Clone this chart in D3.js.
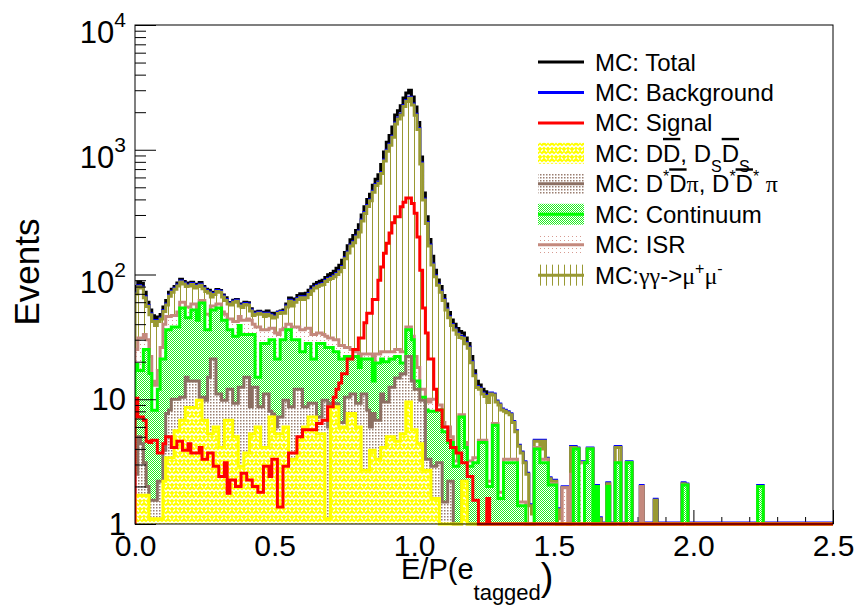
<!DOCTYPE html>
<html>
<head>
<meta charset="utf-8">
<script src="https://cdn.jsdelivr.net/npm/d3@7"></script>
<style>
body { margin: 0; background: #fff; }
svg { display: block; font-family: "Liberation Sans", Arial, Helvetica, sans-serif; }
</style>
</head>
<body>
<div id="chart"></div>
<script>
// E/P histogram, 250 bins of 0.01 from 0 to 2.5
var nBins = 250;
var binWidth = 0.01;

// MC: DDbar, DsDsbar (yellow)
var dd = [1.7,1.7,1.7,1.7,1.7,1.1,1.1,1.1,1.1,1.1,
  2.2,3.4,3.4,3.4,5.6,5.6,6.8,6.8,8.6,8.6,
  8.6,8.6,9.8,9.8,6.8,6.8,5.3,5.3,6,6,
  4.1,4.1,6.8,6.8,6.8,5,5,2.9,2.9,3.7,
  3.7,5.3,5.3,6,6,4.1,4.1,4.1,7.2,7.2,
  5.3,5.3,5.3,6,6,3.3,3.3,3.3,4.7,4.7,
  6,6,7.2,7.2,7.2,5.3,5.3,5.3,1.1,1.1,
  8.7,8.7,8.7,6,6,6,7.7,7.7,7.7,6,
  6,2.7,2.7,2.7,3.9,3.9,3.3,3.3,4.1,4.1,
  5,5,5,4.6,4.6,5.3,5.3,9.5,9.5,5.7,
  5.7,4.4,4.4,2.7,2.7,2.7,1.6,1.6,1.6,0.9,
  0.9,0.9,0.9,0.9,0.9,0.9,0.9,2.2,2.2];

// MC: D*Dbar pi (brown)
var ddpi = [0.8,3.3,2.7,1.4,0.3,0.45,0.45,0.45,1.1,1.1,
  1.7,4.3,4.8,6.6,4.4,4.4,3.6,3.6,6.4,5.4,
  5.4,5.4,4.2,0.6,3.6,3.0,9.7,15.7,15,5,
  6.9,5.7,3,5.2,5.2,4.3,4.3,9.6,9.6,11.3,
  11.3,3.4,7.2,6.5,2.7,4.6,6.9,6.9,0.8,0.4,
  0.7,1.9,1.9,3.8,3.8,5.4,5.4,8.7,7.3,7.3,
  2.7,2.7,2.1,2.1,2.1,1.9,1.9,4.5,8.7,4.9,
  0.6,0.6,0.5,0.5,0.5,4.4,2.7,3.3,3.3,3.3,
  3.3,8.3,8.3,5.5,2.1,3.8,3.5,3.5,6.9,5.4,
  4.5,7.5,7.5,10.2,10.2,10.7,10.7,12.5,12.5,8.3,
  6.3,7.6,5.4,7.1,0.6,0.6,1.3,1.3,1.5,2.2,
  0.6,0.6,1.3,1.3];

// MC: Continuum (green)
var cont = [16.5,12,12.6,21.9,23,14.5,6.6,6.6,9.8,18.8,
  17.1,28.3,27.8,28,28,28,43.6,43.6,30,31,
  38,38,29,48.6,48.6,26.2,21,31,31,43,
  43,33.2,33.2,24,24,22.7,22.7,26.5,20.5,18,
  18,24.3,20.5,2.5,6.3,19.3,17,17,22,22.4,
  15,13.8,22.8,20.2,26.2,27.3,21.3,18,18,12,
  15.3,19.3,18.7,11.7,11.7,20.8,20.8,18.2,16.2,20,
  16.7,14.7,14.8,14.5,14.5,11.6,11.6,11,11,12.7,
  8.7,10,10,12.8,15,6.3,12.7,12.7,10,10.5,
  10.5,8.5,8.5,7.2,7.2,3.5,3.5,14,14,16,
  2,2,0.6,0.6,4.9,4.7,5.1,5.1,5.1,5.1,
  4,4,2.3,2.3,2,2,6.3,5,1.9,2.9,
  2.9,3.1,3.1,4.5,4.5,4.5,2,2,6.2,6.2,
  1.6,1.6,3.1,3.1,3.1,3.1,3.1,1.4,1.4,1.4,
  0,0,0,4,4,3.1,3.1,3.1,2.05,2.05,
  2.05,0,0,0,0,0,0,4,4,0,
  0,3.1,4,4,0,2,0,0,0,2,
  0,0,3.1,3.1,0,0,3.1,3.1,0,0,
  0,0,0,0,0,0,0,0,0,0,
  0,0,0,0,0,0,2.05,2.05,0,0,
  0,0,0,0,0,0,0,0,0,0,
  0,0,0,0,0,0,0,0,0,0,
  0,0,0,2,2];

// MC: ISR
var isr = [6,14,14,8,5,6,5.8,4.8,5,5,
  19,10,10,9,9,12,6,6,10,10,
  6,6,9,3,3,12,12,4,4,4,
  4,7,5,8,8,10,10,7,10,10,
  11,10,7,23,23,8,8,8,7,7,
  13,12,6,7,4,4,8,8,8,12,
  12,9,9,12,12,6,6,5,6,5,
  5,6,6,6,6,4,4,3,3,2,
  4,2,2,2,2,4,3.5,3.5,3,4,
  4,3,3,3,3,4.5,4.5,2,2,2,
  8,4,1.6,1.6,1.8,1.5,2,2,0.8,0.8,
  1,0.5,1.5,0.5,0.3,0.3,0.3,0.3,0.4,0.3,
  0.3,0.3,0.3,0.2,0.2,0.2,0.2,0.2,0.2,0.2,
  0.2,0.2,0.2,0.2,0.2,0.2,0.2,0.1,0.1,0.1,
  0,0,0,0.1,0.1,0.2,0.2,0.2,0.05,0.05,
  0.05,0,0,1.95,1.95,0,2.5,0,0,3.1,
  3.1,0,0,0,0,0,0,0,0,0,
  0,0,0,0,0,0,0,0,0,0,
  0,2];

// MC: gamma gamma -> mu+ mu-
var gg = [44.8,48.8,46.8,32.2,25.4,25.5,28,26,25,18,
  10.6,11,21,25,29,31,27,24,25,26,
  25,20,28,20,15,25,23,10,13,15,
  14,16,14,14,13,18,19,10,11.5,14.5,
  13,8,7,10,11,12,10,12,9.6,7.7,
  11.7,15.6,13.6,12,15,21,18,22,25,29,
  27,28,32,41,45,46,48,50,56,60,
  62,66,70,78,87,108,123,144,155,176,
  197,246,286,328,368,439,494,517,621,788,
  948,1061,1236,1585,1735,1876,2196,2402,2552,2248,
  1868,1432,755,384,246,160,109,86,73,63,
  55.5,46,39,34,32.7,30,23.8,23.4,23.4,22.4,
  16.4,12,9,7.3,6.3,5.8,7.2,8.8,4.4,3.1,
  7.2,6.4,4.7,4.5,4.2,3.2,2.2,2.7,2.2,1.6,
  2.5,1.4,1.2,0.5,0.5,0.7,1.3,0,0.2,0.1,
  0.1,1.3,1.1,0,0,0,1.6,0.1,0,0,
  0,0,0,0,0,0,1.1,0,0,0.1,
  0,0,1,1,0,0,0,0,0,0,
  0,0,0,0,0,0,1.55,0,0,0,
  0,0,0,0,0,0,0.05];

// MC: Signal (red)
var signal = [10.2,7.2,7.2,6.8,4.6,4.5,4.7,4.7,3.7,3.7,
  4.4,5,5,4.1,4.1,4.6,4.6,3.9,3.9,4.4,
  3.7,3.7,3.7,4.1,3.3,3.3,3.7,3.7,2.9,2.9,
  2.4,2.4,3.1,1.76,2.25,2.25,2,2,2.55,2.55,
  2.25,2.25,2,2,1.8,1.8,2.9,2.9,2.4,3.3,
  3.3,1.37,1.37,2.9,2.9,3.7,3.7,3.7,5,5,
  5.7,5.7,5.7,5.7,5.7,6.4,6.4,6.8,6.8,8.7,
  8.7,10.4,12,13.5,16,16,21,21,25,25,
  31,31,41,49,49,63,63,90,115,148,
  178,215,260,290,290,350,380,410,410,370,
  310,200,108,54,34,21,21,12,8.2,8.2,
  6,6,4.7,4.1,4.1,3.7,3.7,3.1,3.1,2.4,
  2.4,1.55,1.55,1,1,1,1.6];

var stackKeys = ["dd", "ddpi", "cont", "isr", "gg"];
var xTicksMajor = [0, 0.5, 1.0, 1.5, 2.0, 2.5];
var yTicksMajor = [1, 10, 100, 1000, 10000];

var colors = {
  dd: "#ffff00", ddpi: "#8c6f62", cont: "#00ff00", isr: "#c4897d", gg: "#999933",
  total: "#000000", bkg: "#0000ff", signal: "#ff0000"
};

var svg = d3.select("#chart").append("svg")
  .attr("width", 861)
  .attr("height", 606);

var x = d3.scaleLinear().domain([0, 2.5]).range([135, 833]);
var y = d3.scaleLog().domain([1, 1e4]).range([524, 25]).clamp(true);

// fill patterns
var defs = svg.append("defs");
function pattern(id, w, h) {
  var p = defs.append("pattern").attr("id", id)
    .attr("patternUnits", "userSpaceOnUse")
    .attr("width", w).attr("height", h);
  return p;
}
var pY = pattern("p-dd", 8, 8);
pY.append("rect").attr("width", 8).attr("height", 8).attr("fill", "#ffff00");
pY.append("path").attr("d", "M0,1.5 L2,3.5 L4,1.5 L6,3.5 L8,1.5 M1,5.5 L3,7.5 M5,7.5 L7,5.5")
  .attr("stroke", "#fff").attr("stroke-width", 1.5).attr("fill", "none");

var pB = pattern("p-ddpi", 3, 3);
pB.append("rect").attr("width", 3).attr("height", 3).attr("fill", "#fff");
pB.append("rect").attr("width", 1.5).attr("height", 1.5).attr("fill", "#9a7e70");

var pG = pattern("p-cont", 2, 2);
pG.append("rect").attr("width", 2).attr("height", 2).attr("fill", "#fff");
pG.append("rect").attr("width", 1).attr("height", 1).attr("fill", "#22ee22");
pG.append("rect").attr("x", 1).attr("y", 1).attr("width", 1).attr("height", 1).attr("fill", "#22ee22");

var pI = pattern("p-isr", 4, 4);
pI.append("rect").attr("width", 4).attr("height", 4).attr("fill", "#fff");
pI.append("rect").attr("width", 1).attr("height", 1).attr("fill", "#d79a90");

var pH = pattern("p-gg", 6, 6);
pH.append("rect").attr("width", 6).attr("height", 6).attr("fill", "#fff");
pH.append("rect").attr("x", 0).attr("width", 1).attr("height", 6).attr("fill", colors.gg);

defs.append("clipPath").attr("id", "plot-clip")
  .append("rect").attr("x", 135).attr("y", 20).attr("width", 698).attr("height", 507);

// x ticks (they sit under the histograms)
var xAxis = svg.append("g").attr("transform", "translate(0,524)")
  .call(d3.axisBottom(x).tickValues(xTicksMajor).tickSizeInner(-14).tickSizeOuter(0)
    .tickPadding(11).tickFormat(d3.format(".1f")));
svg.append("g").attr("transform", "translate(0,524)")
  .call(d3.axisBottom(x).tickValues(d3.range(1, 25).filter(function (i) { return i % 5 != 0; }).map(function (i) { return i / 10; }))
    .tickSizeInner(-7).tickSizeOuter(0).tickFormat(""))
  .select(".domain").remove();
xAxis.select(".domain").remove();
xAxis.selectAll("text").attr("font-size", 30).attr("font-family", "Liberation Sans, Arial, sans-serif").attr("fill", "#000");

// data table and stack
var table = d3.range(nBins).map(function (i) {
  return {
    dd: dd[i] || 0, ddpi: ddpi[i] || 0, cont: cont[i] || 0,
    isr: isr[i] || 0, gg: gg[i] || 0, signal: signal[i] || 0
  };
});
var stacked = d3.stack().keys(stackKeys)(table);
var background = stacked[stacked.length - 1].map(function (d) { return d[1]; });
var total = background.map(function (v, i) { return v + table[i].signal; });

function stepPts(vals) {
  var pts = [[0, 0]];
  vals.forEach(function (v, i) { pts.push([i * binWidth, v]); });
  pts.push([nBins * binWidth, vals[nBins - 1]]);
  pts.push([nBins * binWidth, 0]);
  return pts;
}
var line = d3.line()
  .x(function (d) { return x(d[0]); })
  .y(function (d) { return y(Math.max(d[1], 1)); })
  .curve(d3.curveStepAfter);
var area = d3.area()
  .x(function (d) { return x(d[0]); })
  .y0(y(1))
  .y1(function (d) { return y(Math.max(d[1], 1)); })
  .curve(d3.curveStepAfter);

var plot = svg.append("g").attr("clip-path", "url(#plot-clip)");

plot.append("path").attr("d", line(stepPts(total)))
  .attr("fill", "none").attr("stroke", colors.total).attr("stroke-width", 3);
plot.append("path").attr("d", line(stepPts(background)))
  .attr("transform", "translate(0,-1)")
  .attr("fill", "none").attr("stroke", colors.bkg).attr("stroke-width", 3);

// stacked layers, top of the stack first
stacked.slice().reverse().forEach(function (s) {
  var top = s.map(function (d) { return d[1]; });
  plot.append("path").attr("d", area(stepPts(top)))
    .attr("fill", "url(#p-" + s.key + ")");
  plot.append("path").attr("d", line(stepPts(top)))
    .attr("fill", "none").attr("stroke", colors[s.key]).attr("stroke-width", 3);
});

plot.append("path").attr("d", line(stepPts(table.map(function (d) { return d.signal; }))))
  .attr("fill", "none").attr("stroke", colors.signal).attr("stroke-width", 3);

// y ticks
var minorY = [];
[1, 10, 100, 1000].forEach(function (dec) {
  for (var k = 2; k <= 9; k++) minorY.push(dec * k);
});
svg.append("g").attr("transform", "translate(135,0)")
  .call(d3.axisLeft(y).tickValues(yTicksMajor).tickSizeInner(-21).tickSizeOuter(0).tickFormat(""))
  .select(".domain").remove();
svg.append("g").attr("transform", "translate(135,0)")
  .call(d3.axisLeft(y).tickValues(minorY).tickSizeInner(-11).tickSizeOuter(0).tickFormat(""))
  .select(".domain").remove();

svg.append("rect").attr("x", 135).attr("y", 25).attr("width", 698).attr("height", 499)
  .attr("fill", "none").attr("stroke", "#000").attr("stroke-width", 1);

// y labels
yTicksMajor.forEach(function (v) {
  var e = Math.round(Math.log10(v));
  var t = svg.append("text").attr("x", 126).attr("text-anchor", "end")
    .attr("font-size", 31).attr("fill", "#000");
  if (e <= 1) {
    t.attr("y", y(v) + 11).text(String(v));
  } else {
    t.attr("y", y(v) + 18).text("10");
    t.append("tspan").attr("font-size", 21).attr("dy", -16).text(String(e));
  }
});

// axis titles
svg.append("text").attr("transform", "translate(39,272) rotate(-90)")
  .attr("text-anchor", "middle").attr("font-size", 35).text("Events");

var xt = svg.append("text").attr("x", 401).attr("y", 579).attr("font-size", 29);
xt.append("tspan").text("E/P(e");
xt.append("tspan").attr("font-size", 22).attr("dy", 21).text("tagged");
xt.append("tspan").attr("font-size", 38).attr("dy", -10).text(")");

// legend
var legendEntries = [
  { parts: [["MC: Total"]], line: colors.total },
  { parts: [["MC: Background"]], line: colors.bkg },
  { parts: [["MC: Signal"]], line: colors.signal },
  { parts: [["MC: D"], ["D", "bar"], [", D"], ["S", "sub"], ["D", "bar"], ["S", "sub"]], fill: "dd" },
  { parts: [["MC: D"], ["*", "sup"], ["D", "bar"], ["\u03c0", "greek"], [", D"], ["*", "sup"], ["D", "bar"], ["*", "sup"], [" "], ["\u03c0", "greek"]], fill: "ddpi" },
  { parts: [["MC: Continuum"]], fill: "cont" },
  { parts: [["MC: ISR"]], fill: "isr" },
  { parts: [["MC:"], ["\u03b3\u03b3", "greek"], ["->"], ["\u03bc", "greek"], ["+", "sup"], ["\u03bc", "greek"], ["-", "sup"]], fill: "gg" }
];
var shifts = { sub: 10, sup: -10 };

legendEntries.forEach(function (entry, i) {
  var ry = 62 + i * 30.45;
  var g = svg.append("g");
  if (entry.fill) {
    g.append("rect").attr("x", 538).attr("y", ry - 10.5).attr("width", 46).attr("height", 21)
      .attr("fill", "url(#p-" + entry.fill + ")");
    if (entry.fill != "dd") {
      g.append("line").attr("x1", 538).attr("x2", 584).attr("y1", ry).attr("y2", ry)
        .attr("stroke", colors[entry.fill]).attr("stroke-width", 3);
    }
  } else {
    g.append("line").attr("x1", 538).attr("x2", 584).attr("y1", ry).attr("y2", ry)
      .attr("stroke", entry.line).attr("stroke-width", 3);
  }
  var t = g.append("text").attr("x", 595).attr("y", ry + 8.5).attr("font-size", 24);
  var cur = 0;
  entry.parts.forEach(function (p) {
    var style = p[1] || "";
    var target = shifts[style] || 0;
    var ts = t.append("tspan").attr("dy", target - cur).text(p[0]);
    cur = target;
    if (style == "sub" || style == "sup") ts.attr("font-size", 16);
    if (style == "greek") ts.attr("font-family", "Liberation Serif, Times New Roman, serif");
    if (style == "bar") ts.style("text-decoration", "overline");
  });
});
</script>
</body>
</html>
